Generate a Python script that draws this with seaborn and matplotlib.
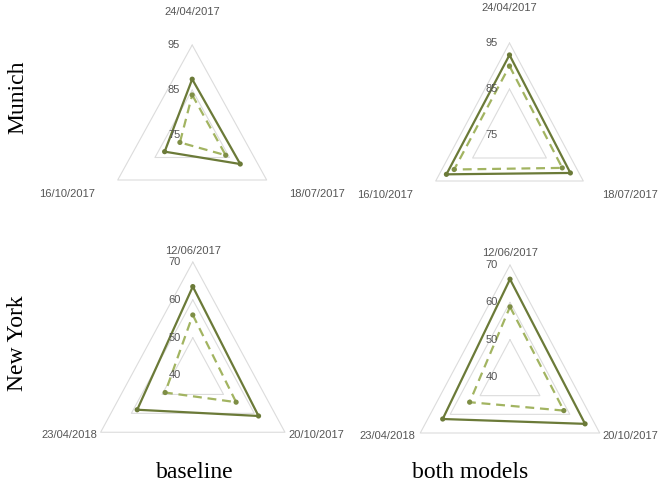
import numpy as np
import pandas as pd
import matplotlib
matplotlib.use("Agg")
import matplotlib.pyplot as plt
import seaborn as sns

# ---- data -------------------------------------------------------------
munich_axes = ["24/04/2017", "18/07/2017", "16/10/2017"]
newyork_axes = ["12/06/2017", "20/10/2017", "23/04/2018"]

munich_ticks = [75, 85, 95]
newyork_ticks = [40, 50, 60, 70]

# solid = first series, dashed = second series
munich_baseline_solid = [87.4, 87.9, 82.4]
munich_baseline_dashed = [83.9, 84.0, 78.3]
munich_both_solid = [92.4, 91.5, 92.1]
munich_both_dashed = [90.0, 89.3, 90.0]

newyork_baseline_solid = [63.5, 61.4, 58.1]
newyork_baseline_dashed = [56.0, 54.1, 49.0]
newyork_both_solid = [66.2, 65.1, 62.5]
newyork_both_dashed = [58.8, 58.0, 53.5]

row_labels = ["Munich", "New York"]
col_labels = ["baseline", "both models"]

# ---- style ------------------------------------------------------------
sns.set_theme(style="white")
plt.rcParams["font.family"] = ["Liberation Sans", "DejaVu Sans"]

SOLID = "#6B7A38"
DASHED = "#A2B461"
DASHED_PT = "#7E8E45"
GRID = "#DCDCDC"
TXT = "#555555"

W_PX, H_PX = 660, 490
fig = plt.figure(figsize=(6.6, 4.9), dpi=100)

ANG = np.deg2rad([0, 120, 240])  # top, lower right, lower left (clockwise)


def to_xy(values, lo, hi):
    r = (np.asarray(values, float) - lo) / (hi - lo)
    return r * np.sin(ANG), r * np.cos(ANG)


def panel(cx, cy, sx, sy, axes_names, ticks, solid, dashed,
          lab_r, top_r, right_r=None):
    bw, bh = 300, 250
    ax = fig.add_axes([(cx - bw / 2) / W_PX, 1 - (cy + bh / 2) / H_PX,
                       bw / W_PX, bh / H_PX])
    ax.set_xlim(-bw / 2 / sx, bw / 2 / sx)
    ax.set_ylim(-bh / 2 / sy, bh / 2 / sy)
    ax.patch.set_alpha(0)
    ax.axis("off")
    lo, hi = ticks[0], ticks[-1]
    right_r = lab_r if right_r is None else right_r

    # grid triangles
    for t in ticks[1:]:
        gx, gy = to_xy([t] * 3, lo, hi)
        ax.plot(np.r_[gx, gx[0]], np.r_[gy, gy[0]], color=GRID, lw=0.8,
                zorder=1)

    # series polygons
    for vals, col, ls, pc in [(dashed, DASHED, (0, (4, 2.6)), DASHED_PT),
                              (solid, SOLID, "-", SOLID)]:
        px, py = to_xy(vals, lo, hi)
        df = pd.DataFrame({"x": np.r_[px, px[0]], "y": np.r_[py, py[0]],
                           "o": range(4)})
        sns.lineplot(data=df, x="x", y="y", sort=False, estimator=None,
                     color=col, lw=1.6, linestyle=ls, ax=ax, zorder=3)
        sns.scatterplot(x=px, y=py, color=pc, s=14, edgecolor="none",
                        ax=ax, zorder=4)

    # radial tick labels along the top axis
    for t in ticks:
        r = (t - lo) / (hi - lo)
        ax.annotate(str(t), xy=(0, r), xytext=(-12, 0),
                    textcoords="offset pixels", ha="right", va="center",
                    fontsize=8, color=TXT)

    # axis (date) labels
    ax.text(0, top_r, axes_names[0], ha="center", va="center",
            fontsize=8, color=TXT)
    ax.text(right_r * np.sin(ANG[1]), lab_r * np.cos(ANG[1]), axes_names[1],
            ha="left", va="center", fontsize=8, color=TXT)
    ax.text(lab_r * np.sin(ANG[2]), lab_r * np.cos(ANG[2]), axes_names[2],
            ha="right", va="center", fontsize=8, color=TXT)
    ax.set_xlabel("")
    ax.set_ylabel("")
    return ax


panel(192.2, 135, 86.0, 90, munich_axes, munich_ticks,
      munich_baseline_solid, munich_baseline_dashed, 1.30, 1.37)
panel(509.5, 135, 85.2, 92, munich_axes, munich_ticks,
      munich_both_solid, munich_both_dashed, 1.31, 1.38, right_r=1.25)
panel(192.8, 375.5, 106.4, 113.5, newyork_axes, newyork_ticks,
      newyork_baseline_solid, newyork_baseline_dashed, 1.04, 1.10)
panel(510, 377, 103.6, 112, newyork_axes, newyork_ticks,
      newyork_both_solid, newyork_both_dashed, 1.06, 1.11, right_r=1.03)

# facet strip labels
serif = ["Liberation Serif", "DejaVu Serif"]
for lab, yp in zip(row_labels, [97, 343]):
    fig.text(18 / W_PX, 1 - yp / H_PX, lab, rotation=90, ha="center",
             va="center", fontsize=17, family=serif, color="black")
for lab, xp in zip(col_labels, [195, 470]):
    fig.text(xp / W_PX, 1 - 472 / H_PX, lab, ha="center", va="center",
             fontsize=17, family=serif, color="black")

fig.savefig("out.png", dpi=100)
